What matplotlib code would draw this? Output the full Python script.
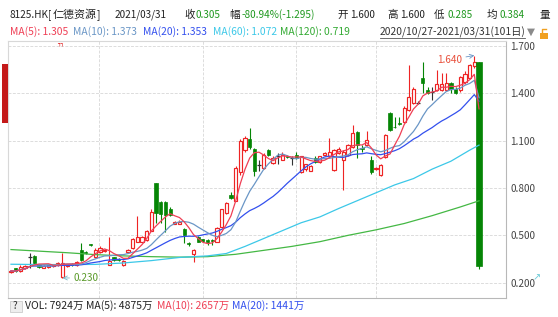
import matplotlib
matplotlib.use('Agg')
import matplotlib.pyplot as plt
from matplotlib.patches import Rectangle
from matplotlib.lines import Line2D
import pandas as pd

plt.rcParams['font.family'] = ['Noto Sans CJK SC', 'DejaVu Sans']

# daily candles 2020/10/27 - 2021/03/31 (101 days)
opens = [0.265, 0.290, 0.275, 0.290, 0.360, 0.370, 0.310, 0.295, 0.300, 0.305,
         0.310, 0.236, 0.305, 0.320, 0.310, 0.410, 0.395, 0.445, 0.360, 0.395,
         0.400, 0.312, 0.360, 0.350, 0.312, 0.395, 0.420, 0.460, 0.460, 0.470,
         0.530, 0.830, 0.710, 0.710, 0.670, 0.575, 0.575, 0.540, 0.450, 0.380,
         0.490, 0.475, 0.470, 0.470, 0.460, 0.550, 0.640, 0.755, 0.720, 0.900,
         1.040, 1.110, 1.050, 0.946, 0.930, 1.040, 0.960, 1.000, 0.980, 1.005,
         0.990, 1.010, 0.900, 0.920, 0.910, 0.990, 0.965, 1.010, 1.000, 0.914,
         1.020, 0.980, 1.010, 1.060, 1.155, 1.055, 1.070, 0.980, 0.920, 0.880,
         0.997, 1.275, 1.190, 1.210, 1.220, 1.295, 1.338, 1.340, 1.497, 1.420,
         1.410, 1.420, 1.420, 1.420, 1.465, 1.430, 1.420, 1.470, 1.500, 1.573,
         1.600]
highs = [0.280, 0.295, 0.310, 0.315, 0.390, 0.375, 0.315, 0.310, 0.315, 0.320,
         0.330, 0.390, 0.320, 0.325, 0.340, 0.450, 0.400, 0.448, 0.420, 0.430,
         0.415, 0.490, 0.365, 0.355, 0.345, 0.415, 0.485, 0.620, 0.495, 0.535,
         0.670, 0.835, 0.720, 0.715, 0.680, 0.590, 0.595, 0.545, 0.460, 0.415,
         0.495, 0.480, 0.480, 0.475, 0.550, 0.670, 0.710, 0.775, 0.940, 1.110,
         1.130, 1.180, 1.055, 0.980, 1.020, 1.050, 1.000, 1.020, 1.030, 1.010,
         1.000, 1.030, 1.005, 0.955, 0.945, 1.000, 1.005, 1.030, 1.120, 1.050,
         1.060, 1.040, 1.080, 1.200, 1.160, 1.070, 1.160, 1.000, 0.935, 0.950,
         1.140, 1.280, 1.250, 1.250, 1.320, 1.580, 1.440, 1.350, 1.600, 1.440,
         1.440, 1.550, 1.530, 1.530, 1.470, 1.440, 1.510, 1.540, 1.585, 1.640,
         1.600]
lows = [0.260, 0.268, 0.270, 0.285, 0.290, 0.320, 0.295, 0.290, 0.295, 0.300,
        0.305, 0.230, 0.300, 0.305, 0.305, 0.340, 0.385, 0.435, 0.355, 0.390,
        0.395, 0.310, 0.340, 0.340, 0.308, 0.390, 0.415, 0.455, 0.455, 0.465,
        0.525, 0.580, 0.580, 0.520, 0.620, 0.570, 0.570, 0.450, 0.430, 0.330,
        0.455, 0.455, 0.440, 0.440, 0.455, 0.545, 0.635, 0.730, 0.715, 0.880,
        1.030, 1.050, 0.876, 0.910, 0.920, 1.000, 0.950, 0.950, 0.975, 0.990,
        0.945, 0.985, 0.895, 0.910, 0.905, 0.960, 0.960, 1.005, 0.995, 0.910,
        1.015, 0.790, 1.000, 1.055, 0.990, 1.030, 1.065, 0.890, 0.915, 0.875,
        0.990, 1.160, 1.180, 1.200, 1.210, 1.290, 1.330, 1.335, 1.400, 1.395,
        1.360, 1.415, 1.415, 1.415, 1.400, 1.395, 1.410, 1.460, 1.490, 1.560,
        0.285]
closes = [0.275, 0.272, 0.300, 0.305, 0.360, 0.325, 0.300, 0.305, 0.310, 0.315,
          0.325, 0.325, 0.315, 0.310, 0.330, 0.345, 0.390, 0.440, 0.410, 0.420,
          0.410, 0.337, 0.345, 0.345, 0.337, 0.410, 0.480, 0.490, 0.490, 0.530,
          0.650, 0.640, 0.635, 0.630, 0.630, 0.585, 0.585, 0.500, 0.445, 0.410,
          0.460, 0.465, 0.460, 0.465, 0.545, 0.665, 0.705, 0.740, 0.930, 1.100,
          1.120, 1.060, 0.910, 0.946, 1.010, 1.010, 0.990, 1.000, 1.010, 0.995,
          0.990, 0.990, 1.000, 0.950, 0.940, 0.965, 1.000, 1.025, 1.030, 1.040,
          1.050, 1.030, 1.070, 1.150, 1.070, 1.045, 1.105, 0.900, 0.930, 0.946,
          1.135, 1.170, 1.185, 1.205, 1.310, 1.377, 1.427, 1.340, 1.466, 1.400,
          1.410, 1.460, 1.460, 1.465, 1.430, 1.400, 1.503, 1.520, 1.580, 1.600,
          0.305]

ma60_days = [0, 6, 12, 18, 24, 30, 36, 42, 46, 50, 54, 58, 62, 66, 70, 74, 78,
             82, 86, 90, 94, 98, 100]
ma60_vals = [0.317, 0.315, 0.315, 0.316, 0.325, 0.340, 0.360, 0.370, 0.385,
             0.430, 0.480, 0.530, 0.580, 0.617, 0.670, 0.720, 0.770, 0.820,
             0.860, 0.920, 0.970, 1.040, 1.072]
ma120_days = [0, 6, 12, 18, 24, 30, 36, 42, 48, 54, 60, 66, 72, 78, 84, 90, 96, 100]
ma120_vals = [0.410, 0.400, 0.390, 0.378, 0.370, 0.365, 0.362, 0.365, 0.380,
              0.405, 0.430, 0.460, 0.500, 0.535, 0.575, 0.625, 0.680, 0.719]

y_ticks = [0.2, 0.5, 0.8, 1.1, 1.4, 1.7]
y_labels = ['0.200', '0.500', '0.800', '1.100', '1.400', '1.700']

RED = '#ee2424'
GREEN = '#058505'
C_MA5 = '#ef3f55'
C_MA10 = '#6a96c6'
C_MA20 = '#3350ee'
C_MA60 = '#3cc8e8'
C_MA120 = '#44b844'
TXT = '#222222'
TXT_GREEN = '#1f981f'

W, H = 558, 317
fig = plt.figure(figsize=(W / 100, H / 100), dpi=100)
ax = fig.add_axes([8 / W, 1 - 298 / H, 498 / W, 257 / H])

days = list(range(len(closes)))
s = pd.Series(closes)
ma5 = s.rolling(5, min_periods=1).mean()
ma10 = s.rolling(10, min_periods=1).mean()
ma20 = s.rolling(20, min_periods=1).mean()

up = [i for i in days if closes[i] > opens[i]]
down = [i for i in days if closes[i] < opens[i]]
flat = [i for i in days if closes[i] == opens[i]]
last = days[-1]

# up days: hollow red
ax.vlines(up, [lows[i] for i in up], [highs[i] for i in up], color=RED, lw=0.8, zorder=2)
ax.bar(up, [closes[i] - opens[i] for i in up], bottom=[opens[i] for i in up],
       width=0.68, facecolor='white', edgecolor=RED, lw=0.85, zorder=3)
# down days: filled green
ax.vlines(down, [lows[i] for i in down], [highs[i] for i in down], color=GREEN, lw=0.8, zorder=2)
ax.bar(down, [opens[i] - closes[i] for i in down], bottom=[closes[i] for i in down],
       width=[1.1 if i == last else 0.68 for i in down],
       facecolor=GREEN, edgecolor=GREEN, lw=0.5, zorder=3)
# doji
ax.vlines(flat, [lows[i] for i in flat], [highs[i] for i in flat], color='#333333', lw=0.8, zorder=2)
ax.hlines([closes[i] for i in flat], [i - 0.4 for i in flat], [i + 0.4 for i in flat],
          color='#333333', lw=0.9, zorder=3)

ax.plot(ma120_days, ma120_vals, color=C_MA120, lw=0.9, zorder=4)
ax.plot(ma60_days, ma60_vals, color=C_MA60, lw=0.9, zorder=4)
ax.plot(days, ma20, color=C_MA20, lw=0.9, zorder=4)
ax.plot(days, ma10, color=C_MA10, lw=0.9, zorder=4)
ax.plot(days, ma5, color=C_MA5, lw=0.9, zorder=4)

# max / min markers
hi_i = highs.index(max(highs))
lo_i = lows.index(min(lows))
ax.annotate('%.3f' % highs[hi_i], xy=(hi_i, highs[hi_i]), xytext=(-9, -3),
            textcoords='offset points', ha='right', va='center', fontsize=7.2,
            color='#e8503c', zorder=6,
            arrowprops=dict(arrowstyle='->', color=C_MA10, lw=0.6, shrinkA=1, shrinkB=0))
ax.annotate('%.3f' % lows[lo_i], xy=(lo_i, lows[lo_i]), xytext=(8, 0),
            textcoords='offset points', ha='left', va='center', fontsize=7.2,
            color='#5a9a2a', zorder=6,
            arrowprops=dict(arrowstyle='->', color='#7ab8c8', lw=0.6, shrinkA=1, shrinkB=0))

ax.set_xlim(-0.64, 105.77)
ax.set_ylim(0.103, 1.732)
ax.set_yticks(y_ticks)
ax.set_yticklabels(y_labels)
ax.yaxis.tick_right()
ax.tick_params(axis='y', length=0, pad=3, labelsize=7.2, labelcolor='#444444')
ax.set_xticks([18.8, 41.0, 60.9, 78.0])
ax.tick_params(axis='x', length=0, labelbottom=False)
ax.grid(True, color='#dcdcdc', lw=0.7, linestyle=(0, (3, 1.5)), zorder=0)
ax.set_axisbelow(True)
for side in ['left', 'top']:
    ax.spines[side].set_color('#d8d8d8')
for side in ['right', 'bottom']:
    ax.spines[side].set_color('#b8b8b8')
for sp in ax.spines.values():
    sp.set_linewidth(0.8)


def put(x, y, text, color=TXT, size=7.2, **kw):
    fig.text(x / W, 1 - y / H, text, color=color, fontsize=size,
             ha='left', va='center', **kw)


# header line 1 (CJK glyphs slightly larger, as in the terminal font)
put(10, 15, '8125.HK[')
put(53, 15, '仁德资源', size=7.9)
put(97, 15, ']')
put(115, 15, '2021/03/31')
put(184, 15, '收', size=7.6)
put(196, 15, '0.305', TXT_GREEN)
put(229, 15, '幅', size=7.6)
put(242, 15, '-80.94%(-1.295)', TXT_GREEN)
put(337, 15, '开', size=7.6)
put(350, 15, '1.600')
put(387, 15, '高', size=7.6)
put(400, 15, '1.600')
put(434, 15, '低', size=7.6)
put(447, 15, '0.285', TXT_GREEN)
put(487, 15, '均', size=7.6)
put(500, 15, '0.384', TXT_GREEN)
put(540, 15, '量', size=7.6)

# header line 2
put(10, 32, 'MA(5): 1.305', C_MA5, size=7.4)
put(73, 32, 'MA(10): 1.373', C_MA10, size=7.4)
put(143, 32, 'MA(20): 1.353', C_MA20, size=7.4)
put(213, 32, 'MA(60): 1.072', C_MA60, size=7.4)
put(280, 32, 'MA(120): 0.719', '#33aa33', size=7.4)
put(380, 32, '2020/10/27-2021/03/31(101日)', '#333333', size=7.4)
fig.add_artist(Line2D([380 / W, 525 / W], [1 - 38 / H, 1 - 38 / H], color='#555555', lw=0.6))
put(527, 32, '▼', '#8a8a8a', size=7.5, family=['DejaVu Sans'])
fig.add_artist(Rectangle((540 / W, 1 - 39 / H), 8 / W, 6 / H, facecolor='#f0a020',
                         edgecolor='none'))
fig.add_artist(Line2D([541.5 / W, 541.5 / W, 546 / W], [1 - 33 / H, 1 - 29 / H, 1 - 29 / H],
                      color='#f0a020', lw=1.0))

# bottom volume line
fig.add_artist(Rectangle((10 / W, 1 - 312 / H), 12 / W, 11 / H, facecolor='#eeeeee',
                         edgecolor='#cccccc', lw=0.6))
put(13, 306, '?', '#333333')
put(25, 306, 'VOL: 7924万', size=7.5)
put(86, 306, 'MA(5): 4875万', size=7.5)
put(157, 306, 'MA(10): 2657万', C_MA5, size=7.5)
put(232, 306, 'MA(20): 1441万', C_MA20, size=7.5)

# side widgets of the terminal
fig.add_artist(Rectangle((2 / W, 1 - 123 / H), 6 / W, 59 / H, facecolor='#c41a1a',
                         edgecolor='none'))
put(56, 44, 'ㄲ', '#e02020', size=5, family=['Noto Sans CJK KR'])
put(533, 277, '↗', '#6ccbd8', size=7, family=['DejaVu Sans'])

fig.savefig('out.png', dpi=100)
